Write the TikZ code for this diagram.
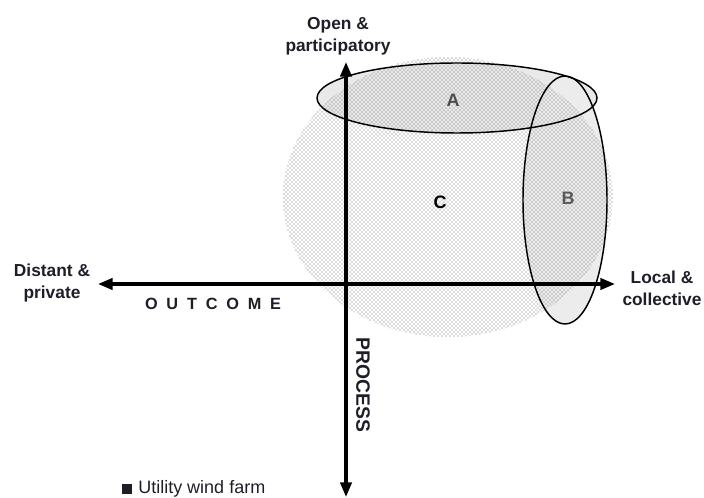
\documentclass[tikz,border=0pt]{standalone}
\usepackage{fontspec}
\setmainfont{Liberation Sans}
\usetikzlibrary{arrows.meta,patterns}
\definecolor{txt}{RGB}{30,30,40}
\begin{document}
\begin{tikzpicture}[x=0.75pt,y=-0.75pt,
  twoaxis/.style={line width=2.4pt,{Triangle[length=11pt,width=8.5pt]}-{Triangle[length=11pt,width=8.5pt]}},
  rim/.style={draw=black,line width=1.1pt},
  lbl/.style={font=\bfseries\fontsize{13}{16.5}\selectfont,align=center,text=txt,inner sep=0pt},
  zone/.style={font=\bfseries\fontsize{13.5}{16}\selectfont,inner sep=0pt}]
\useasboundingbox (0,0) rectangle (704,498);
% fills of A and B
\fill[gray!17] (457,98) ellipse [x radius=140, y radius=35];
\fill[gray!15] (565,200) ellipse [x radius=42, y radius=124];
% dotted region C
\path[pattern=crosshatch dots, pattern color=black!62] (448,197) ellipse [x radius=165, y radius=140];
% outlines
\draw[rim] (457,98) ellipse [x radius=140, y radius=35];
\draw[rim] (565,200) ellipse [x radius=42, y radius=124];
% axes
\coordinate (xl) at (98,284);
\coordinate (xr) at (615,284);
\coordinate (yt) at (346,62);
\coordinate (yb) at (346,497);
\draw[twoaxis] (xl) -- (xr);
\draw[twoaxis] (yb) -- (yt);
% labels
\node[lbl] (open) at (338,36) {Open \&\\participatory};
\node[lbl] (dist) at (52,283) {Distant \&\\private};
\node[lbl] (loc) at (662,288) {Local \&\\collective};
\node[font=\bfseries\fontsize{12.2}{14}\selectfont,text=txt,inner sep=0pt] (out) at (213,304)
  {O\kern6.6pt U\kern6.6pt T\kern6.6pt C\kern6.6pt O\kern6.6pt M\kern6.6pt E};
\node[font=\bfseries\fontsize{14.5}{16}\selectfont,text=txt,inner sep=0pt,rotate=-90] (proc) at (363,385) {PROCESS};
\node[zone,text=black!70] (A) at (453,100) {A};
\node[zone,text=black!65] (B) at (568,198) {B};
\node[zone,text=black] (C) at (440,202) {C};
\node[anchor=west,inner sep=0pt,text=txt,font=\fontsize{13.5}{16}\selectfont] (leg) at (122,489)
  {\rule[-0.3pt]{7.5pt}{7.5pt}\hspace{4.5pt}Utility wind farm};
\end{tikzpicture}
\end{document}
